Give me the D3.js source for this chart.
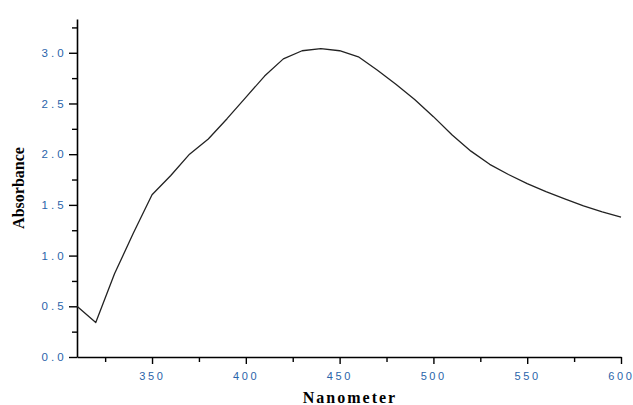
<!DOCTYPE html>
<html>
<head>
<meta charset="utf-8">
<script src="https://cdn.jsdelivr.net/npm/d3@7"></script>
<style>
  html, body { margin: 0; padding: 0; background: #fff; }
  svg { display: block; }
</style>
</head>
<body>
<svg id="chart" width="633" height="405"></svg>
<script>
// Data
const wavelengths = [310, 320, 330, 340, 350, 360, 370, 380, 390, 400, 410, 420, 430, 440, 450,
                     460, 470, 480, 490, 500, 510, 520, 530, 540, 550, 560, 570, 580, 590, 600];
const absorbance  = [0.50, 0.34, 0.82, 1.22, 1.60, 1.79, 2.00, 2.15, 2.35, 2.56, 2.77, 2.94, 3.02, 3.04, 3.02,
                     2.96, 2.83, 2.69, 2.54, 2.37, 2.19, 2.03, 1.90, 1.80, 1.71, 1.63, 1.56, 1.49, 1.43, 1.38];
const xTicks = [350, 400, 450, 500, 550, 600];
const xMinorTicks = [325, 375, 425, 475, 525, 575];
const yTicks = [0.0, 0.5, 1.0, 1.5, 2.0, 2.5, 3.0];
const yMinorTicks = [0.25, 0.75, 1.25, 1.75, 2.25, 2.75, 3.25];
const xTitle = "Nanometer";
const yTitle = "Absorbance";

(function () {
const svg = d3.select("#chart");
const mLeft = 77, mRight = 621, mTop = 19, mBottom = 357;

const x = d3.scaleLinear().domain([310, 600]).range([mLeft, mRight]);
const y = d3.scaleLinear().domain([0, 3.333]).range([mBottom, mTop]);

const tickColor = "#2a64aa";
const ls = 2.6;

// X axis
const xAxis = d3.axisBottom(x).tickValues(xTicks).tickSize(7).tickSizeOuter(0)
  .tickFormat(d3.format("d"));
const gx = svg.append("g").attr("transform", `translate(0,${mBottom})`).call(xAxis);
gx.select(".domain").attr("stroke", "#000").attr("stroke-width", 1.6);
gx.selectAll(".tick line").attr("stroke", "#000").attr("stroke-width", 1.4);
gx.selectAll(".tick text")
  .attr("y", 15).attr("dy", "0.71em").attr("dx", ls / 2 - 1.5)
  .attr("fill", tickColor)
  .style("font-family", "'Liberation Sans', Arial, sans-serif")
  .style("font-size", "11px")
  .style("letter-spacing", ls + "px");
const gxm = svg.append("g").attr("transform", `translate(0,${mBottom})`)
  .call(d3.axisBottom(x).tickValues(xMinorTicks).tickSize(5).tickFormat(""));
gxm.select(".domain").remove();
gxm.selectAll(".tick line").attr("stroke", "#000").attr("stroke-width", 1.4);

// Y axis
const yAxis = d3.axisLeft(y).tickValues(yTicks).tickSize(8).tickSizeOuter(0)
  .tickFormat(d3.format(".1f"));
const gy = svg.append("g").attr("transform", `translate(${mLeft},0)`).call(yAxis);
gy.select(".domain").attr("stroke", "#000").attr("stroke-width", 1.6);
gy.selectAll(".tick line").attr("stroke", "#000").attr("stroke-width", 1.4);
gy.selectAll(".tick text")
  .attr("x", -13).attr("dx", ls)
  .attr("fill", tickColor)
  .style("font-family", "'Liberation Sans', Arial, sans-serif")
  .style("font-size", "11.5px")
  .style("letter-spacing", "3px");
const gym = svg.append("g").attr("transform", `translate(${mLeft},0)`)
  .call(d3.axisLeft(y).tickValues(yMinorTicks).tickSize(5).tickFormat(""));
gym.select(".domain").remove();
gym.selectAll(".tick line").attr("stroke", "#000").attr("stroke-width", 1.4);

// Curve
const line = d3.line().x((d, i) => x(wavelengths[i])).y(d => y(d));
svg.append("path")
  .datum(absorbance)
  .attr("d", line)
  .attr("fill", "none")
  .attr("stroke", "#222")
  .attr("stroke-width", 1.3)
  .attr("stroke-linejoin", "round");

// Titles
svg.append("text")
  .attr("x", (mLeft + mRight) / 2 + 1).attr("y", 403)
  .attr("text-anchor", "middle")
  .style("font-family", "'Liberation Serif', 'Times New Roman', serif")
  .style("font-weight", "bold")
  .style("font-size", "16px")
  .style("letter-spacing", "2px")
  .text(xTitle);

svg.append("text")
  .attr("transform", `translate(24,${(mTop + mBottom) / 2}) rotate(-90)`)
  .attr("text-anchor", "middle")
  .style("font-family", "'Liberation Serif', 'Times New Roman', serif")
  .style("font-weight", "bold")
  .style("font-size", "16px")
  .text(yTitle);
})();
</script>
</body>
</html>
